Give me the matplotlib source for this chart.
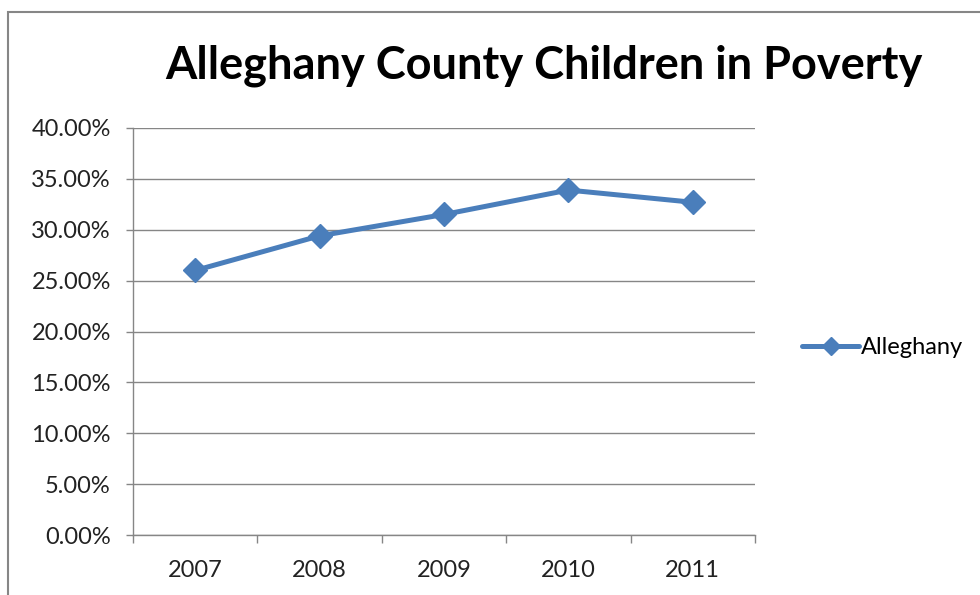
import matplotlib
matplotlib.use("Agg")
import matplotlib.pyplot as plt
from matplotlib.ticker import FuncFormatter
from matplotlib.patches import Rectangle

years = ["2007", "2008", "2009", "2010", "2011"]
alleghany = [26.0, 29.4, 31.5, 33.9, 32.7]
y_ticks = [0, 5, 10, 15, 20, 25, 30, 35, 40]
series_name = "Alleghany"
title = "Alleghany County Children in Poverty"

W, H = 980, 595
fig = plt.figure(figsize=(W / 100, H / 100), dpi=100)
plt.rcParams["font.family"] = ["Lato", "DejaVu Sans"]

# outer chart frame (runs past the right and bottom edges)
fig.patches.append(Rectangle((8 / W, -0.05), 1.1, (H - 12) / H + 0.05,
                             transform=fig.transFigure, fill=False,
                             edgecolor="#868686", linewidth=1.5))

ax = fig.add_axes([133 / W, 1 - 535 / H, (755 - 133) / W, (535 - 128) / H])
x = list(range(len(years)))
line_color = "#4A7EBB"
ax.plot(x, alleghany, color=line_color, linewidth=3.6, marker="D",
        markersize=12, markeredgecolor=line_color, label=series_name,
        solid_capstyle="round", zorder=3)

ax.set_xlim(-0.5, len(years) - 0.5)
ax.set_ylim(0, 40)
ax.set_yticks(y_ticks)
ax.yaxis.set_major_formatter(FuncFormatter(lambda v, p: f"{v:.2f}%"))
ax.set_xticks(x)
ax.set_xticklabels(years)
ax.set_xticks([i - 0.5 for i in range(len(years) + 1)], minor=True)
ax.tick_params(axis="x", which="major", length=0, pad=18, labelsize=17,
               colors="#222222")
ax.tick_params(axis="x", which="minor", length=5.8, color="#868686", width=1)
ax.tick_params(axis="y", length=5, color="#868686", width=1, labelsize=17,
               pad=11, labelcolor="#222222")
ax.grid(axis="y", color="#868686", linewidth=1)
ax.set_axisbelow(True)
for s in ["top", "right"]:
    ax.spines[s].set_visible(False)
for s in ["left", "bottom"]:
    ax.spines[s].set_color("#868686")
    ax.spines[s].set_linewidth(1)

fig.text(544 / W, 1 - 66 / H, title, ha="center", va="center",
         fontsize=32.5, fontweight="bold", color="black")

leg = ax.legend(loc="center left", bbox_to_anchor=(781 / W, 1 - 348 / H),
                bbox_transform=fig.transFigure, frameon=False, fontsize=17,
                handlelength=2.4, handletextpad=0.1, markerscale=0.8)

fig.savefig("out.png", dpi=100)
